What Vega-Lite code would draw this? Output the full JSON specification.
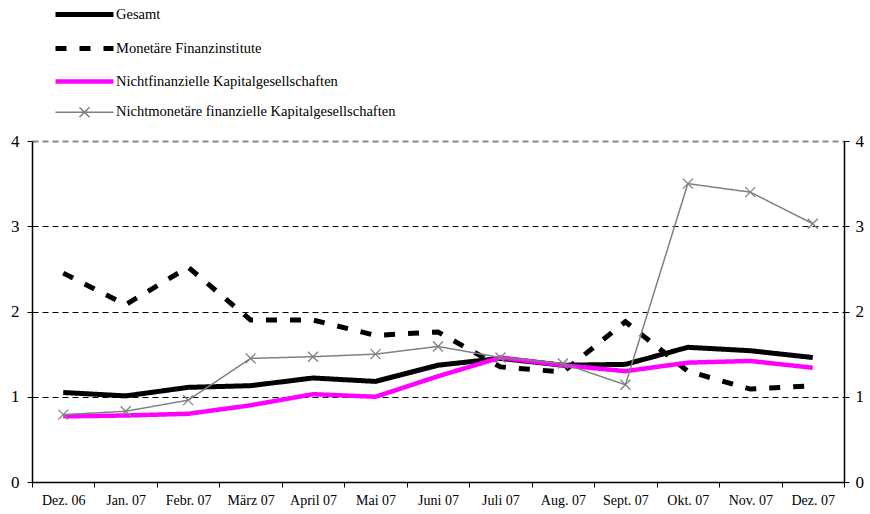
{
  "$schema": "https://vega.github.io/schema/vega-lite/v6.json",
  "width": 812,
  "height": 341,
  "autosize": "none",
  "padding": {"left": 32, "top": 141, "right": 26, "bottom": 32},
  "background": "white",
  "config": {
    "font": "Liberation Serif",
    "view": {"stroke": null},
    "axis": {"labelFont": "Liberation Serif"},
    "legend": {"labelFont": "Liberation Serif"}
  },
  "data": {"values": [
    {"monat": "Dez. 06", "reihe": "Gesamt", "wert": 1.05},
    {"monat": "Jan. 07", "reihe": "Gesamt", "wert": 1.01},
    {"monat": "Febr. 07", "reihe": "Gesamt", "wert": 1.11},
    {"monat": "März 07", "reihe": "Gesamt", "wert": 1.13},
    {"monat": "April 07", "reihe": "Gesamt", "wert": 1.22},
    {"monat": "Mai 07", "reihe": "Gesamt", "wert": 1.18},
    {"monat": "Juni 07", "reihe": "Gesamt", "wert": 1.37},
    {"monat": "Juli 07", "reihe": "Gesamt", "wert": 1.45},
    {"monat": "Aug. 07", "reihe": "Gesamt", "wert": 1.37},
    {"monat": "Sept. 07", "reihe": "Gesamt", "wert": 1.38},
    {"monat": "Okt. 07", "reihe": "Gesamt", "wert": 1.58},
    {"monat": "Nov. 07", "reihe": "Gesamt", "wert": 1.54},
    {"monat": "Dez. 07", "reihe": "Gesamt", "wert": 1.46},
    {"monat": "Dez. 06", "reihe": "Monetäre Finanzinstitute", "wert": 2.45},
    {"monat": "Jan. 07", "reihe": "Monetäre Finanzinstitute", "wert": 2.08},
    {"monat": "Febr. 07", "reihe": "Monetäre Finanzinstitute", "wert": 2.52},
    {"monat": "März 07", "reihe": "Monetäre Finanzinstitute", "wert": 1.9},
    {"monat": "April 07", "reihe": "Monetäre Finanzinstitute", "wert": 1.9},
    {"monat": "Mai 07", "reihe": "Monetäre Finanzinstitute", "wert": 1.72},
    {"monat": "Juni 07", "reihe": "Monetäre Finanzinstitute", "wert": 1.76},
    {"monat": "Juli 07", "reihe": "Monetäre Finanzinstitute", "wert": 1.35},
    {"monat": "Aug. 07", "reihe": "Monetäre Finanzinstitute", "wert": 1.29},
    {"monat": "Sept. 07", "reihe": "Monetäre Finanzinstitute", "wert": 1.88},
    {"monat": "Okt. 07", "reihe": "Monetäre Finanzinstitute", "wert": 1.3},
    {"monat": "Nov. 07", "reihe": "Monetäre Finanzinstitute", "wert": 1.09},
    {"monat": "Dez. 07", "reihe": "Monetäre Finanzinstitute", "wert": 1.13},
    {"monat": "Dez. 06", "reihe": "Nichtfinanzielle Kapitalgesellschaften", "wert": 0.77},
    {"monat": "Jan. 07", "reihe": "Nichtfinanzielle Kapitalgesellschaften", "wert": 0.78},
    {"monat": "Febr. 07", "reihe": "Nichtfinanzielle Kapitalgesellschaften", "wert": 0.8},
    {"monat": "März 07", "reihe": "Nichtfinanzielle Kapitalgesellschaften", "wert": 0.9},
    {"monat": "April 07", "reihe": "Nichtfinanzielle Kapitalgesellschaften", "wert": 1.03},
    {"monat": "Mai 07", "reihe": "Nichtfinanzielle Kapitalgesellschaften", "wert": 1.0},
    {"monat": "Juni 07", "reihe": "Nichtfinanzielle Kapitalgesellschaften", "wert": 1.24},
    {"monat": "Juli 07", "reihe": "Nichtfinanzielle Kapitalgesellschaften", "wert": 1.46},
    {"monat": "Aug. 07", "reihe": "Nichtfinanzielle Kapitalgesellschaften", "wert": 1.37},
    {"monat": "Sept. 07", "reihe": "Nichtfinanzielle Kapitalgesellschaften", "wert": 1.3},
    {"monat": "Okt. 07", "reihe": "Nichtfinanzielle Kapitalgesellschaften", "wert": 1.4},
    {"monat": "Nov. 07", "reihe": "Nichtfinanzielle Kapitalgesellschaften", "wert": 1.42},
    {"monat": "Dez. 07", "reihe": "Nichtfinanzielle Kapitalgesellschaften", "wert": 1.34},
    {"monat": "Dez. 06", "reihe": "Nichtmonetäre finanzielle Kapitalgesellschaften", "wert": 0.79},
    {"monat": "Jan. 07", "reihe": "Nichtmonetäre finanzielle Kapitalgesellschaften", "wert": 0.83},
    {"monat": "Febr. 07", "reihe": "Nichtmonetäre finanzielle Kapitalgesellschaften", "wert": 0.96},
    {"monat": "März 07", "reihe": "Nichtmonetäre finanzielle Kapitalgesellschaften", "wert": 1.45},
    {"monat": "April 07", "reihe": "Nichtmonetäre finanzielle Kapitalgesellschaften", "wert": 1.47},
    {"monat": "Mai 07", "reihe": "Nichtmonetäre finanzielle Kapitalgesellschaften", "wert": 1.5},
    {"monat": "Juni 07", "reihe": "Nichtmonetäre finanzielle Kapitalgesellschaften", "wert": 1.59},
    {"monat": "Juli 07", "reihe": "Nichtmonetäre finanzielle Kapitalgesellschaften", "wert": 1.46},
    {"monat": "Aug. 07", "reihe": "Nichtmonetäre finanzielle Kapitalgesellschaften", "wert": 1.39},
    {"monat": "Sept. 07", "reihe": "Nichtmonetäre finanzielle Kapitalgesellschaften", "wert": 1.14},
    {"monat": "Okt. 07", "reihe": "Nichtmonetäre finanzielle Kapitalgesellschaften", "wert": 3.5},
    {"monat": "Nov. 07", "reihe": "Nichtmonetäre finanzielle Kapitalgesellschaften", "wert": 3.4},
    {"monat": "Dez. 07", "reihe": "Nichtmonetäre finanzielle Kapitalgesellschaften", "wert": 3.03}
  ]},
  "layer": [
    {
      "mark": {"type": "line", "strokeCap": "butt", "strokeJoin": "miter"},
      "encoding": {
        "x": {
          "field": "monat", "type": "ordinal",
          "sort": ["Dez. 06","Jan. 07","Febr. 07","März 07","April 07","Mai 07","Juni 07","Juli 07","Aug. 07","Sept. 07","Okt. 07","Nov. 07","Dez. 07"],
          "scale": {"type": "band", "paddingInner": 0, "paddingOuter": 0},
          "axis": {"title": null, "labelAngle": 0, "tickBand": "extent", "tickSize": 5, "labelFontSize": 14, "labelPadding": 6, "labelColor": "black", "domainColor": "black", "tickColor": "black", "domainWidth": 1.5, "grid": false}
        },
        "y": {
          "field": "wert", "type": "quantitative",
          "scale": {"domain": [0, 4], "nice": false},
          "axis": {"title": null, "orient": "left", "values": [0,1,2,3,4], "tickSize": 5, "labelFontSize": 17, "labelPadding": 8, "labelColor": "black", "domainColor": "black", "tickColor": "black", "domainWidth": 1.5, "grid": true, "gridDash": [6, 4], "gridColor": {"condition": {"test": "datum.value == 4", "value": "#888888"}, "value": "black"}, "gridWidth": {"condition": {"test": "datum.value == 4", "value": 2}, "value": 1}, "gridOpacity": {"condition": {"test": "datum.value == 0", "value": 0}, "value": 1}}
        },
        "color": {
          "field": "reihe", "type": "nominal",
          "scale": {"domain": ["Gesamt","Monetäre Finanzinstitute","Nichtfinanzielle Kapitalgesellschaften","Nichtmonetäre finanzielle Kapitalgesellschaften"], "range": ["black","black","#ff00ff","#808080"]},
          "legend": {"title": null, "orient": "none", "legendX": 45, "legendY": -134, "symbolType": "M-5.8,0L5.8,0", "symbolSize": 100, "labelFontSize": 14.5, "labelColor": "black", "labelOffset": 24, "labelLimit": 0, "rowPadding": 13, "symbolOffset": 0,
            "encode": {"symbols": {"update": {"shape": [{"test": "datum.label == 'Nichtmonetäre finanzielle Kapitalgesellschaften'", "value": "M-5.8,0L5.8,0M-1,-1L1,1M-1,1L1,-1"}, {"value": "M-5.8,0L5.8,0"}]}}}}
        },
        "strokeDash": {
          "field": "reihe", "type": "nominal",
          "scale": {"domain": ["Gesamt","Monetäre Finanzinstitute","Nichtfinanzielle Kapitalgesellschaften","Nichtmonetäre finanzielle Kapitalgesellschaften"], "range": [[1,0],[11,13],[1,0],[1,0]]},
          "legend": {"title": null}
        },
        "strokeWidth": {
          "field": "reihe", "type": "nominal",
          "scale": {"type": "ordinal", "domain": ["Gesamt","Monetäre Finanzinstitute","Nichtfinanzielle Kapitalgesellschaften","Nichtmonetäre finanzielle Kapitalgesellschaften"], "range": [5, 5, 4.5, 1.5]},
          "legend": {"title": null}
        }
      }
    },
    {
      "transform": [{"filter": "datum.reihe == 'Nichtmonetäre finanzielle Kapitalgesellschaften'"}],
      "mark": {"type": "point", "shape": "M-1,-1L1,1M-1,1L1,-1", "filled": false, "size": 100, "color": "#808080", "strokeWidth": 1.3, "opacity": 1},
      "encoding": {
        "x": {"field": "monat", "type": "ordinal", "sort": ["Dez. 06","Jan. 07","Febr. 07","März 07","April 07","Mai 07","Juni 07","Juli 07","Aug. 07","Sept. 07","Okt. 07","Nov. 07","Dez. 07"]},
        "y": {
          "field": "wert", "type": "quantitative",
          "axis": {"title": null, "orient": "right", "values": [0,1,2,3,4], "tickSize": 5, "labelFontSize": 17, "labelPadding": 6, "labelColor": "black", "domainColor": "black", "tickColor": "black", "domainWidth": 1.5, "grid": false}
        }
      }
    }
  ],
  "resolve": {"axis": {"y": "independent"}}
}
